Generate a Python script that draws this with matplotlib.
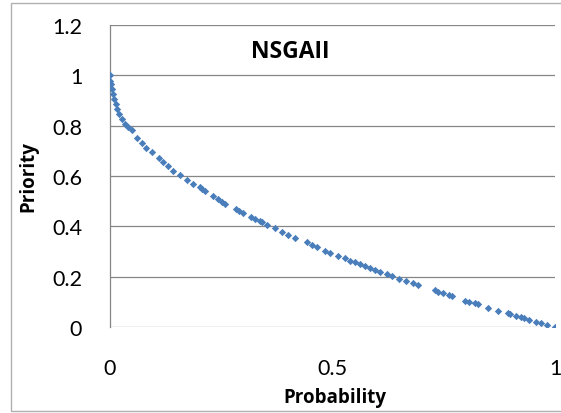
import matplotlib
matplotlib.use('Agg')
import matplotlib.pyplot as plt
from matplotlib.patches import Rectangle

# Pareto front points
prob = [0.000, 0.000, 0.002, 0.004, 0.006, 0.009, 0.013, 0.016, 0.021, 0.026,
        0.034, 0.041, 0.049, 0.060, 0.071, 0.082, 0.094, 0.109, 0.120, 0.131,
        0.142, 0.157, 0.172, 0.187, 0.202, 0.206, 0.213, 0.231, 0.243, 0.251,
        0.258, 0.283, 0.291, 0.298, 0.316, 0.326, 0.336, 0.341, 0.352, 0.371,
        0.386, 0.401, 0.416, 0.442, 0.453, 0.466, 0.483, 0.494, 0.513, 0.528,
        0.539, 0.551, 0.562, 0.573, 0.584, 0.596, 0.607, 0.622, 0.633, 0.650,
        0.665, 0.680, 0.693, 0.730, 0.738, 0.749, 0.762, 0.768, 0.798, 0.807,
        0.820, 0.828, 0.850, 0.873, 0.894, 0.899, 0.912, 0.923, 0.930, 0.942,
        0.957, 0.968, 0.983, 1.000]
priority = [1.000, 0.978, 0.966, 0.946, 0.926, 0.907, 0.887, 0.867, 0.847, 0.827,
            0.807, 0.794, 0.781, 0.752, 0.733, 0.713, 0.695, 0.671, 0.655, 0.639,
            0.621, 0.602, 0.584, 0.568, 0.555, 0.549, 0.540, 0.520, 0.509, 0.498,
            0.489, 0.469, 0.460, 0.453, 0.436, 0.429, 0.421, 0.416, 0.406, 0.395,
            0.379, 0.366, 0.355, 0.337, 0.326, 0.317, 0.303, 0.294, 0.283, 0.273,
            0.264, 0.257, 0.250, 0.241, 0.233, 0.227, 0.220, 0.212, 0.204, 0.191,
            0.184, 0.174, 0.166, 0.148, 0.140, 0.134, 0.127, 0.122, 0.105, 0.101,
            0.096, 0.090, 0.077, 0.065, 0.054, 0.051, 0.044, 0.039, 0.035, 0.028,
            0.019, 0.016, 0.008, 0.000]

xticks = [0, 0.5, 1]
xlabels = ['0', '0.5', '1']
yticks = [0, 0.2, 0.4, 0.6, 0.8, 1.0, 1.2]
ylabels = ['0', '0.2', '0.4', '0.6', '0.8', '1', '1.2']

plt.rcParams['font.family'] = ['Lato', 'DejaVu Sans']
bold = ['Open Sans', 'DejaVu Sans']

fig = plt.figure(figsize=(5.61, 4.14), dpi=100)
ax = fig.add_axes([110/561, 1 - 328/414, 445/561, 302/414])

# chart border
fig.patches.append(Rectangle((11/561, 2/414), 1.0, 408/414, transform=fig.transFigure,
                             fill=False, edgecolor='#b0b0b0', linewidth=1.0))

ax.scatter(prob, priority, marker='D', s=14, color='#4a7ebb', linewidths=0, zorder=3)

ax.set_xlim(0, 1)
ax.set_ylim(0, 1.2)
ax.set_xticks(xticks)
ax.set_xticklabels(xlabels)
ax.set_yticks(yticks)
ax.set_yticklabels(ylabels)
ax.tick_params(axis='both', length=0, labelsize=15.5)
ax.tick_params(axis='x', pad=22)
ax.tick_params(axis='y', pad=20)

for y in yticks:
    ax.axhline(y, color='#868686', linewidth=0.9, zorder=1)
for s in ['top', 'right', 'bottom']:
    ax.spines[s].set_visible(False)
ax.spines['left'].set_color('#868686')
ax.spines['left'].set_linewidth(0.9)

ax.set_xlabel('Probability', fontsize=13.5, fontweight='bold', family=bold, va='center')
ax.set_ylabel('Priority', fontsize=13.5, fontweight='bold', family=bold, va='center')
ax.xaxis.set_label_coords(0.505, -0.232)
ax.yaxis.set_label_coords(-0.184, 0.5)
ax.text(0.405, 0.915, 'NSGAII', transform=ax.transAxes, ha='center', va='center',
        fontsize=16.5, fontweight='bold', family=bold)

fig.savefig('out.png', dpi=100)
